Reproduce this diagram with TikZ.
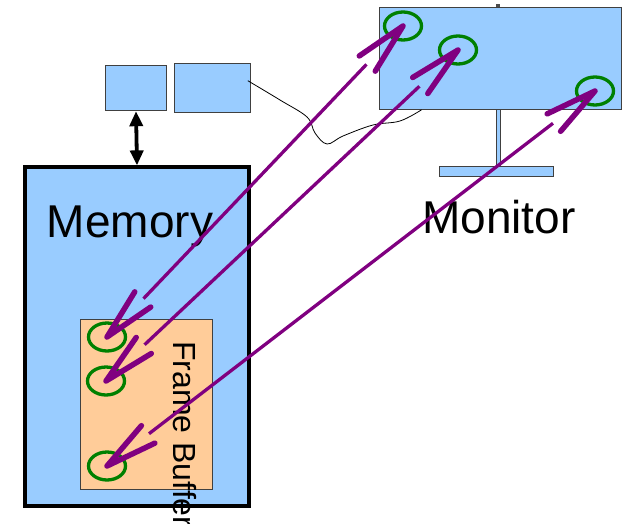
\documentclass[tikz,border=0pt]{standalone}
\usepackage{fontspec}
\setmainfont{Liberation Sans}
\usetikzlibrary{calc,shapes.geometric,arrows.meta}
\definecolor{skyfill}{HTML}{99CCFF}
\definecolor{buffill}{HTML}{FFCC99}
\definecolor{grape}{HTML}{800080}
\definecolor{leaf}{HTML}{008000}
\begin{document}
\begin{tikzpicture}[x=1pt,y=-1pt,
 box/.style={draw=black!75,fill=skyfill,line width=1pt,inner sep=0pt},
 spot/.style={ellipse,draw=leaf,line width=3.3pt,minimum width=37pt,minimum height=28pt,inner sep=0pt},
 shaft/.style={grape,line width=3.3pt},
 barb/.style={grape,line width=5.5pt,line cap=round,line join=round},
 big/.style={font=\fontsize{46}{50}\selectfont}]
\useasboundingbox (0,0) rectangle (626,524);
\node[box,minimum width=60.6pt,minimum height=45.4pt] (cpu) at (136,88) {};
\node[box,minimum width=75.6pt,minimum height=48.7pt] (gpu) at (212.5,87.7) {};
\node[box,draw=black,line width=3.2pt,minimum width=224pt,minimum height=339pt] (mem) at (137,336.5) {};
\node[box,fill=buffill,minimum width=132pt,minimum height=170pt] (fb) at (146.7,404) {};
\draw[line width=3.8pt,{Triangle[length=15pt,width=13pt]}-{Triangle[length=15pt,width=13pt]}] (cpu.south) -- (mem.north);
\path (130,237) node[big,anchor=base] {Memory}
 (499,233) node[big,anchor=base] {Monitor}
 (173,341) node[rotate=-90,anchor=base west,inner sep=0pt,font=\fontsize{32}{36}\selectfont] {Frame Buffer};
% monitor
\node[box,minimum width=4pt,minimum height=57pt] (post) at (498,137.5) {};
\node[box,minimum width=114pt,minimum height=10pt] (foot) at (496,171) {};
\fill[black!70] (495.5,4) rectangle (500,7.5);
\node[box,minimum width=242pt,minimum height=102pt] (screen) at (500,58.3) {};
\coordinate (wa) at ([xshift=-3pt,yshift=7pt]gpu.east);
\coordinate (wb) at ([xshift=43pt]screen.south west);
\draw[line width=.8pt] plot[smooth,tension=.6] coordinates {(wa) (280,100) (307,117) (315,133) (327,144) (343,136) (373,125) (400,121) (wb)};
\foreach \n/\p in {f1/{107,337}, f2/{106,381}, f3/{107,466}, s1/{403,26}, s2/{458,50}, s3/{595,91}}
 \node[spot] (\n) at (\p) {};
\foreach \a/\b in {f1/s1, f2/s2, f3/s3} {
 \draw[shaft] ($(\a)!53pt!(\b)$) -- ($(\b)!53pt!(\a)$);
 \draw[barb] ($(\a)!53pt!12:(\b)$) -- (\a.center) -- ($(\a)!53pt!-12:(\b)$);
 \draw[barb] ($(\b)!53pt!12:(\a)$) -- (\b.center) -- ($(\b)!53pt!-12:(\a)$);
}
\end{tikzpicture}
\end{document}
